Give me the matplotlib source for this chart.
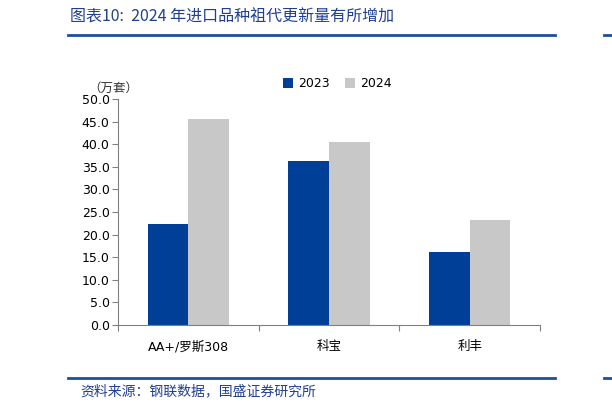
import numpy as np
import matplotlib.pyplot as plt
from matplotlib.lines import Line2D

plt.rcParams['font.family'] = ['DejaVu Sans', 'Noto Sans CJK SC']

# data
categories = ['AA+/罗斯308', '科宝', '利丰']
series_names = ['2023', '2024']
values_2023 = [22.3, 36.3, 16.1]
values_2024 = [45.6, 40.5, 23.2]

blue = '#003f98'
gray = '#c8c8c8'

fig = plt.figure(figsize=(6.12, 4.09), dpi=100)
ax = fig.add_axes([118 / 612, 1 - 325 / 409, 422 / 612, 226 / 409])

x = np.arange(len(categories))
w = 0.29
ax.bar(x - w / 2, values_2023, w, color=blue, label=series_names[0])
ax.bar(x + w / 2, values_2024, w, color=gray, label=series_names[1])

ax.set_xlim(-0.5, 2.5)
ax.set_ylim(0, 50)
ax.set_yticks(np.arange(0, 50.1, 5))
ax.set_yticklabels(['%.1f' % v for v in np.arange(0, 50.1, 5)], fontsize=9)
ax.set_xticks([-0.5, 0.5, 1.5, 2.5])
ax.set_xticklabels([])
ax.set_xticks(x, minor=True)
ax.set_xticklabels(categories, minor=True, fontsize=9,
                   family=['DejaVu Sans', 'Noto Sans CJK SC'])
ax.tick_params(axis='x', which='minor', length=0, pad=11)
ax.tick_params(axis='x', which='major', length=4, direction='out', color='#808080')
ax.tick_params(axis='y', length=4, direction='out', color='#808080', pad=2)
for s in ['top', 'right']:
    ax.spines[s].set_visible(False)
ax.spines['left'].set_color('#808080')
ax.spines['bottom'].set_color('#808080')

ax.legend(loc='upper center', bbox_to_anchor=(0.52, 1.145), ncol=2, frameon=False,
          fontsize=9, handlelength=0.8, handleheight=0.8, columnspacing=1.2,
          handletextpad=0.4)

fig.text(88 / 612, 1 - 88 / 409, '（万套）', fontsize=9, color='#333333',
         family=['Noto Sans CJK SC'], va='center')

# title and source
fig.text(70 / 612, 1 - 17 / 409, '图表10:  2024 年进口品种祖代更新量有所增加', fontsize=11.5,
         color='#1f3f8f', style='italic', va='center',
         family=['Noto Sans CJK SC', 'DejaVu Sans'])
fig.add_artist(Line2D([68 / 612, 555 / 612], [1 - 35 / 409] * 2, color='#1f4e9c', lw=2))
fig.add_artist(Line2D([604 / 612, 612 / 612], [1 - 35 / 409] * 2, color='#1f4e9c', lw=2))
fig.add_artist(Line2D([68 / 612, 555 / 612], [1 - 378 / 409] * 2, color='#1f4e9c', lw=2))
fig.add_artist(Line2D([604 / 612, 612 / 612], [1 - 378 / 409] * 2, color='#1f4e9c', lw=2))
fig.text(80 / 612, 1 - 391 / 409, '资料来源：钢联数据，国盛证券研究所', fontsize=10,
         color='#1f3f8f', style='italic', va='center', family=['Noto Sans CJK SC'])

fig.savefig('out.png', dpi=100)
